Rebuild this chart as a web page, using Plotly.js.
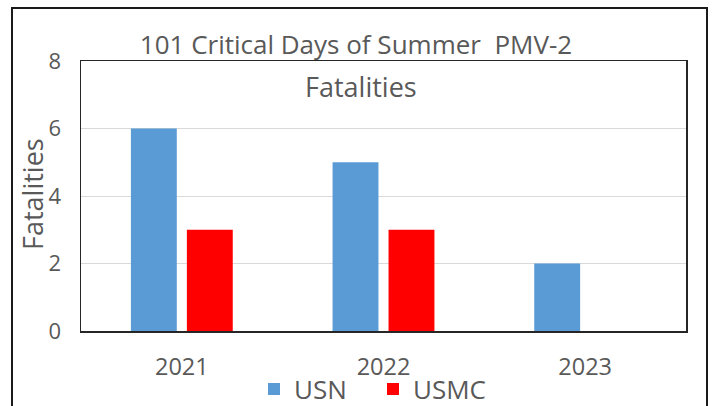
<!DOCTYPE html>
<html><head><meta charset="utf-8">
<script src="https://cdn.plot.ly/plotly-3.0.1.min.js"></script>
<style>html,body{margin:0;padding:0;background:#fff}#chart{width:712px;height:406px}</style>
</head><body><div id="chart"></div>
<script>
const years = ['2021', '2022', '2023'];
const usnValues = [6, 5, 2];
const usmcValues = [3, 3, 0];
const seriesNames = ['USN', 'USMC'];
const chartTitle = '101 Critical Days of Summer\u00a0 PMV-2';
const subTitle = 'Fatalities';
const yAxisTitle = 'Fatalities';
const yTickValues = [0, 2, 4, 6, 8];

const FONT = 'Open Sans, Liberation Sans, sans-serif';
const GRAY = '#595959';

const data = [
  {type: 'bar', name: seriesNames[0], x: years, y: usnValues, marker: {color: '#5B9BD5'}},
  {type: 'bar', name: seriesNames[1], x: years, y: usmcValues, marker: {color: '#FF0000'}}
];

const layout = {
  width: 712, height: 406,
  margin: {l: 81, r: 26, t: 61, b: 75, autoexpand: false},
  paper_bgcolor: '#ffffff', plot_bgcolor: '#ffffff',
  font: {family: FONT, color: GRAY, size: 20},
  title: {text: chartTitle, font: {family: FONT, size: 26, color: GRAY}, x: 0.5, xanchor: 'center', y: 1 - 45/406, yanchor: 'middle'},
  barmode: 'group', bargap: 0.445, bargroupgap: 0.18,
  showlegend: true,
  legend: {orientation: 'h', x: (254 - 81) / 605, xanchor: 'left', y: -0.215, yanchor: 'middle', bgcolor: 'rgba(0,0,0,0)',
           itemwidth: 30, entrywidth: 74, font: {family: FONT, size: 26, color: GRAY}},
  xaxis: {
    type: 'category', showline: true, mirror: true, linecolor: '#262626', linewidth: 1.5,
    ticks: '', ticklabelstandoff: 14, tickfont: {family: FONT, size: 23.5, color: GRAY}, showgrid: false, zeroline: false
  },
  yaxis: {
    range: [0, 8], tickvals: yTickValues, showline: true, mirror: true, linecolor: '#262626', linewidth: 1.5,
    ticks: '', ticklabelstandoff: 14, tickfont: {family: FONT, size: 22, color: GRAY},
    showgrid: true, gridcolor: '#D9D9D9', gridwidth: 1, zeroline: false
  },
  annotations: [
    {text: subTitle, xref: 'paper', yref: 'paper', x: 0.463, y: 1 - (86 - 61) / 270, xanchor: 'center', yanchor: 'middle', showarrow: false, font: {family: FONT, size: 27, color: GRAY}},
    {text: yAxisTitle, textangle: -90, xref: 'paper', yref: 'paper', x: (32 - 81) / 605, y: (331 - 194) / 270, xanchor: 'center', yanchor: 'middle', showarrow: false, font: {family: FONT, size: 27, color: GRAY}}
  ],
  shapes: [
    {type: 'rect', xref: 'paper', yref: 'paper', x0: (12 - 81) / 605, x1: (707 - 81) / 605, y0: -0.6, y1: 1 + (61 - 8) / 270, line: {color: '#1a1a1a', width: 2}, fillcolor: 'rgba(0,0,0,0)', layer: 'below'}
  ]
};

Plotly.newPlot('chart', data, layout, {displayModeBar: false, staticPlot: true});
</script></body></html>
